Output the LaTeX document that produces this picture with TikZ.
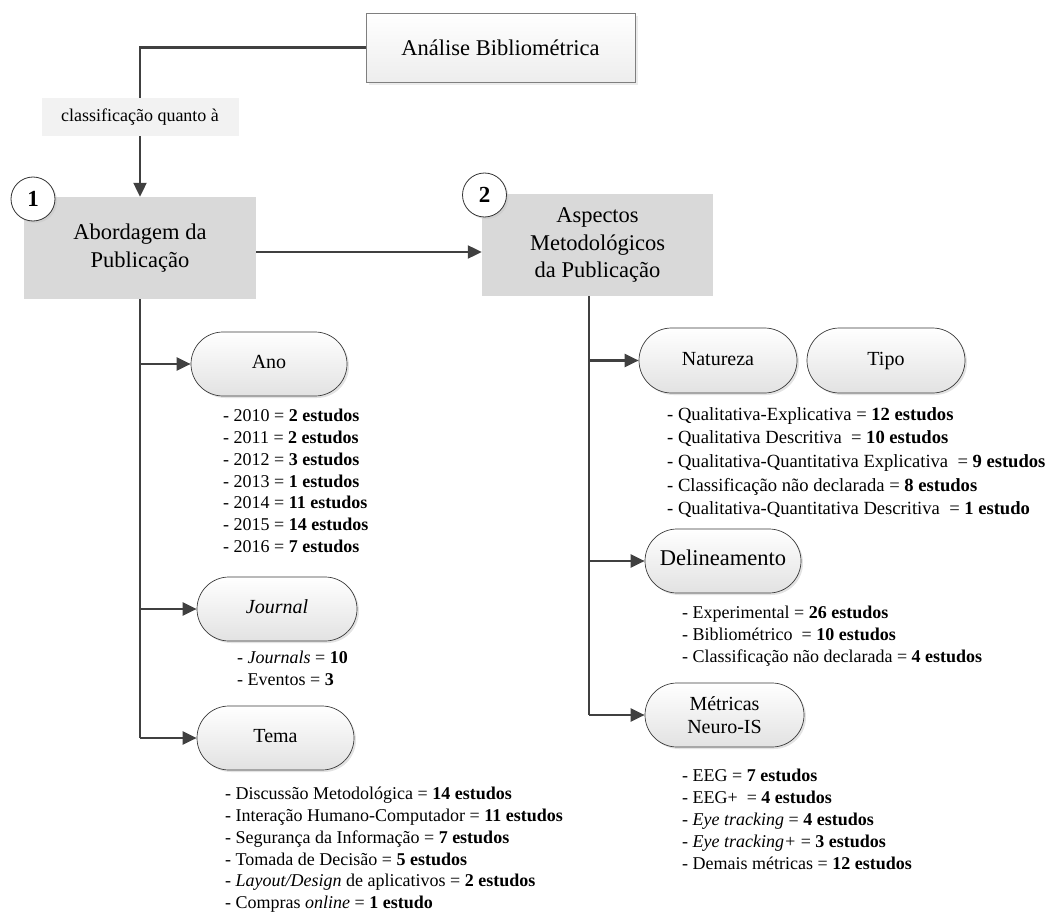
\documentclass[tikz,border=0pt]{standalone}
\usepackage{fontspec}
\setmainfont{Liberation Serif}
\usetikzlibrary{shapes.misc,shadows,arrows.meta,calc}
\definecolor{linec}{HTML}{404040}
\definecolor{pillb}{HTML}{3A3A3A}
\definecolor{pillg}{HTML}{E2E2E2}
\definecolor{boxg}{HTML}{D9D9D9}
\definecolor{lblg}{HTML}{F2F2F2}
\definecolor{topb}{HTML}{7F7F7F}
\begin{document}
\begin{tikzpicture}[x=1pt,y=-1pt,
  conn/.style={draw=linec, line width=2.2pt},
  arrow/.style={conn, -{Triangle[length=14pt,width=13pt]}},
  pill/.style={rounded rectangle, draw=pillb, line width=0.7pt,
    top color=white, bottom color=pillg, minimum width=161pt, minimum height=64pt,
    inner sep=2pt, align=center, font=\fontsize{20}{23}\selectfont,
    drop shadow={shadow xshift=2pt, shadow yshift=-2pt, fill=black!22}},
  oneline/.style={text height=13.5pt, text depth=4.5pt},
  topic/.style={rectangle, fill=boxg, minimum width=232pt, minimum height=102pt,
    align=center, font=\fontsize{22.5}{27.5}\selectfont},
  numc/.style={circle, draw=black!80, line width=0.8pt, fill=white, minimum size=44pt,
    inner sep=0pt, font=\fontsize{23}{23}\selectfont\bfseries,
    drop shadow={shadow xshift=2pt, shadow yshift=-2pt, fill=black!22}},
  list/.style={anchor=north west, inner sep=0pt, align=left,
    font=\fontsize{18}{21.8}\selectfont},
]
\useasboundingbox (0,0) rectangle (1052,912);

% root
\node[rectangle, draw=topb, line width=0.8pt, top color=white, bottom color=black!7,
  minimum width=269pt, minimum height=69pt, font=\fontsize{22.5}{27}\selectfont,
  drop shadow={shadow xshift=3pt, shadow yshift=-3pt, fill=black!15}]
  (root) at (500.5,47.5) {Análise Bibliométrica};

\node[fill=lblg, minimum width=197pt, minimum height=38pt, inner sep=0pt,
  font=\fontsize{18}{21}\selectfont] (cls) at (140,117) {classificação quanto à};

% main categories
\node[topic] (abord) at (140,248) {Abordagem da\\Publicação};
\node[topic, minimum width=231pt, minimum height=102pt] (asp) at (597.5,245) {Aspectos\\Metodológicos\\da Publicação};
\node[numc] (n1) at (33,199) {1};
\node[numc] (n2) at (484.5,195) {2};

\draw[conn] (root.west) -| (cls.north);
\draw[arrow] (cls.south) -- (abord.north);
\draw[arrow] ([yshift=-4pt]abord.east) coordinate (h1) -- (h1 -| asp.west);

% left branch
\node[pill, oneline, minimum width=160pt] (ano) at (269,364) {Ano};
\node[pill, oneline, minimum width=164pt] (jour) at (277,609) {\textit{Journal}};
\node[pill, oneline] (tema) at (275.5,738) {Tema};

\draw[conn] (abord.south) -- (abord.south |- tema.west);
\draw[arrow] (abord.south |- ano.west) -- (ano.west);
\draw[arrow] (abord.south |- jour.west) -- (jour.west);
\draw[arrow] (abord.south |- tema.west) -- (tema.west);

\node[list] (anol) at (223,409) {- 2010 = \textbf{2 estudos}\\- 2011 = \textbf{2 estudos}\\- 2012 = \textbf{3 estudos}\\- 2013 = \textbf{1 estudos}\\- 2014 = \textbf{11 estudos}\\- 2015 = \textbf{14 estudos}\\- 2016 = \textbf{7 estudos}};
\node[list] (jourl) at (237,651) {- \textit{Journals} = \textbf{10}\\- Eventos = \textbf{3}};
\node[list] (temal) at (225,787) {- Discussão Metodológica = \textbf{14 estudos}\\- Interação Humano-Computador = \textbf{11 estudos}\\- Segurança da Informação = \textbf{7 estudos}\\- Tomada de Decisão = \textbf{5 estudos}\\- \textit{Layout/Design} de aplicativos = \textbf{2 estudos}\\- Compras \textit{online} = \textbf{1 estudo}};

% right branch
\coordinate (rt) at ([xshift=-8.5pt]asp.south);
\node[pill, oneline, minimum width=162pt, minimum height=65pt] (nat) at (718,360.5) {Natureza};
\node[pill, oneline, minimum width=162pt, minimum height=65pt] (tipo) at (886,360.5) {Tipo};
\node[pill, oneline, minimum width=160pt, font=\fontsize{22.5}{26}\selectfont] (del) at (723,561) {Delineamento};
\node[pill, minimum width=163pt] (met) at (724.5,715) {Métricas\\Neuro-IS};

\draw[conn] (rt) -- (rt |- met.west);
\draw[arrow] (rt |- nat.west) -- (nat.west);
\draw[arrow] (rt |- del.west) -- (del.west);
\draw[arrow] (rt |- met.west) -- (met.west);

\node[list, font=\fontsize{18.6}{23.7}\selectfont] (natl) at (667,407) {- Qualitativa-Explicativa = \textbf{12 estudos}\\- Qualitativa Descritiva\ \ = \textbf{10 estudos}\\- Qualitativa-Quantitativa Explicativa\ \ = \textbf{9 estudos}\\- Classificação não declarada = \textbf{8 estudos}\\- Qualitativa-Quantitativa Descritiva\ \ = \textbf{1 estudo}};
\node[list, font=\fontsize{18}{22}\selectfont] (dell) at (682,606) {- Experimental = \textbf{26 estudos}\\- Bibliométrico\ \ = \textbf{10 estudos}\\- Classificação não declarada = \textbf{4 estudos}};
\node[list, font=\fontsize{18}{22}\selectfont] (metl) at (682,769) {- EEG = \textbf{7 estudos}\\- EEG+\ \ = \textbf{4 estudos}\\- \textit{Eye tracking} = \textbf{4 estudos}\\- \textit{Eye tracking+} = \textbf{3 estudos}\\- Demais métricas = \textbf{12 estudos}};
\end{tikzpicture}
\end{document}
